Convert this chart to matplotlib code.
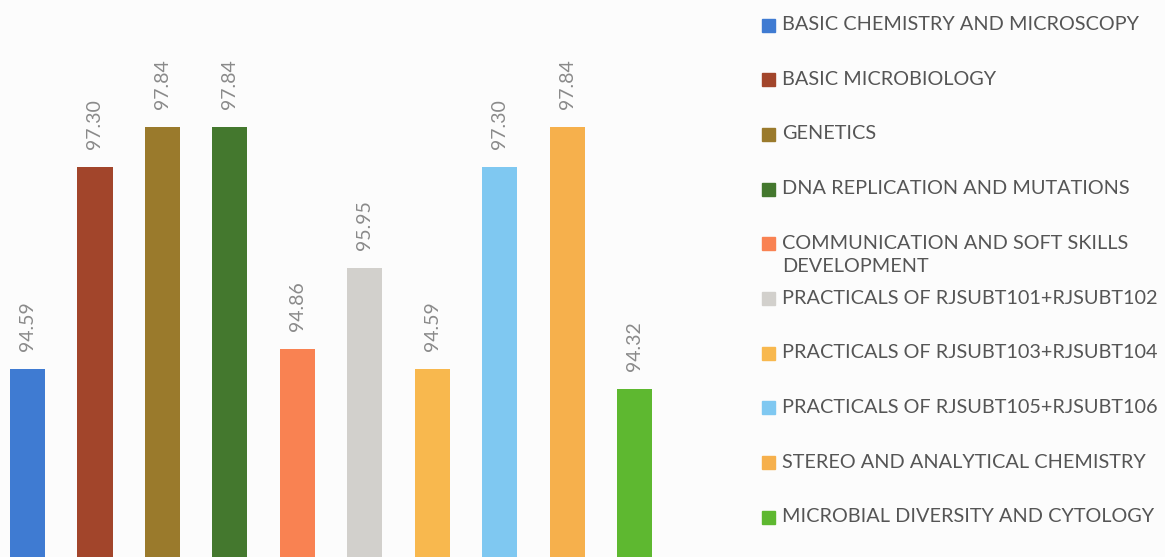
import matplotlib.pyplot as plt
import numpy as np

# dati
materie = [
    "BASIC CHEMISTRY AND MICROSCOPY",
    "BASIC MICROBIOLOGY",
    "GENETICS",
    "DNA REPLICATION AND MUTATIONS",
    "COMMUNICATION AND SOFT SKILLS\nDEVELOPMENT",
    "PRACTICALS OF RJSUBT101+RJSUBT102",
    "PRACTICALS OF RJSUBT103+RJSUBT104",
    "PRACTICALS OF RJSUBT105+RJSUBT106",
    "STEREO AND ANALYTICAL CHEMISTRY",
    "MICROBIAL DIVERSITY AND CYTOLOGY",
]
percentuali = [94.59, 97.30, 97.84, 97.84, 94.86, 95.95, 94.59, 97.30, 97.84, 94.32]
colori = ["#3F7BD2", "#A2452B", "#9A7A2C", "#44782E", "#F98252",
          "#D2D0CC", "#F8B84E", "#7FC8F1", "#F6B04C", "#5EB830"]

plt.rcParams['font.family'] = ['Lato', 'DejaVu Sans']
sfondo = "#FCFCFC"

fig = plt.figure(figsize=(11.65, 5.57), dpi=100, facecolor=sfondo)

# grafico a barre (parte sinistra)
ax = fig.add_axes([0, 0, 700 / 1165, 1], facecolor=sfondo)
x = np.arange(len(percentuali))
barre = ax.bar(x, percentuali, width=0.52, color=colori)
for xi, v in zip(x, percentuali):
    ax.annotate(f"{v:.2f}", (xi, v), xytext=(0, 13), textcoords="offset points",
                rotation=90, ha="center", va="bottom", fontsize=14, color="#8A8A8A")
ax.set_xlim(-0.408, 9.97)
ax.set_ylim(92.06, 99.55)
ax.axis("off")

# legenda costruita a mano (parte destra)
leg = fig.add_axes([0, 0, 1, 1], facecolor="none")
leg.set_xlim(0, 1165)
leg.set_ylim(557, 0)
leg.axis("off")
for i, (nome, col) in enumerate(zip(materie, colori)):
    yy = 25 + 54.7 * i
    leg.add_patch(plt.Rectangle((762, yy - 6.5), 13, 13, color=col))
    leg.text(782, yy - 9, nome, fontsize=14.3, color="#555555",
             ha="left", va="top", linespacing=1.45)

fig.savefig("out.png", dpi=100, facecolor=sfondo)
